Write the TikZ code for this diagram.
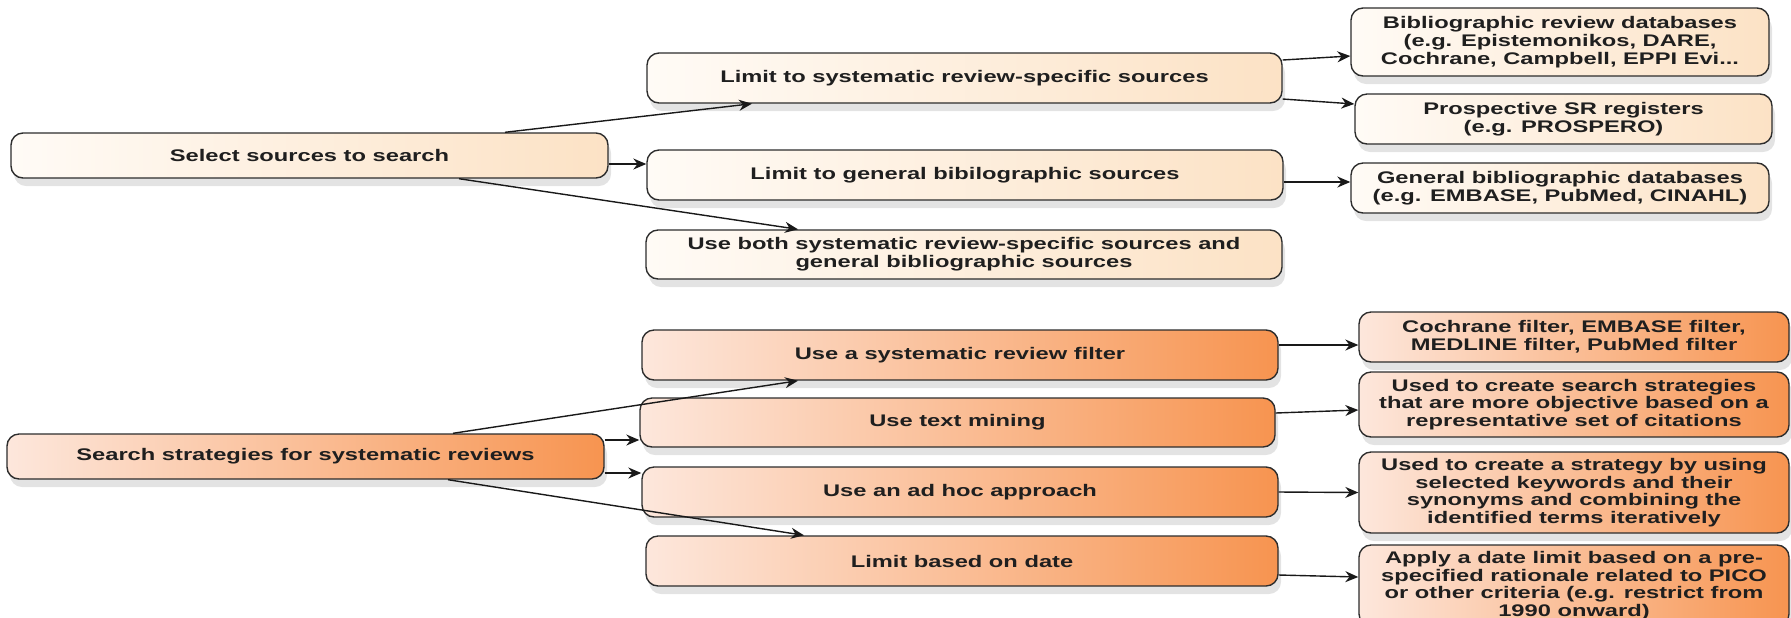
\documentclass[tikz,border=0pt]{standalone}
\usepackage{fontspec}
\setmainfont{Liberation Sans}[FakeStretch=1.41]
\usetikzlibrary{arrows.meta,shadows}
\definecolor{peachL}{RGB}{255,251,246}
\definecolor{peachR}{RGB}{252,226,197}
\definecolor{orangeL}{RGB}{253,231,220}
\definecolor{orangeM}{RGB}{252,207,180}
\definecolor{orangeR}{RGB}{247,148,80}
\definecolor{boxline}{RGB}{45,45,45}
\begin{document}
\begin{tikzpicture}[x=0.5pt,y=-0.5pt,>={Stealth[length=6.5pt,width=5.5pt]}]
        \tikzstyle{box}=[rounded corners=6pt,draw=boxline,line width=0.7pt,inner sep=0pt,align=center,
                         font=\fontsize{8.4pt}{8.85pt}\selectfont\bfseries,text=black!88,
                         drop shadow={shadow xshift=1.5pt,shadow yshift=-4pt,fill=black!18,opacity=0.6}]
        \tikzstyle{source}=[box,left color=peachL,right color=peachR]
        \tikzstyle{strategy}=[box,left color=orangeL,middle color=orangeM,right color=orangeR]
        \tikzstyle{edge}=[draw=black!90,line width=0.7pt,->]

        \useasboundingbox (0,0) rectangle (1791,617);

        \begin{scope}

          \node [source,minimum width=298.5pt,minimum height=22.5pt] (sel) at (309.5,155.5) {Select sources to search};
          \node [source,minimum width=317.5pt,minimum height=25pt] (limsys) at (964.5,78) {Limit to systematic review-specific sources};
          \node [source,minimum width=318pt,minimum height=25pt] (limgen) at (965,175) {Limit to general bibilographic sources};
          \node [source,minimum width=318pt,minimum height=24.5pt] (both) at (964,254.5) {Use both systematic review-specific sources and\\general bibliographic sources};
          \node [source,minimum width=209pt,minimum height=34pt] (bibrev) at (1560,42) {Bibliographic review databases\\(e.g. Epistemonikos, DARE,\\Cochrane, Campbell, EPPI Evi...};
          \node [source,minimum width=208.5pt,minimum height=25pt] (prosp) at (1563.5,119) {Prospective SR registers\\(e.g. PROSPERO)};
          \node [source,minimum width=209pt,minimum height=25pt] (gendb) at (1560,188) {General bibliographic databases\\(e.g. EMBASE, PubMed, CINAHL)};

          \path ([xshift=97.75pt]sel.north) edge[edge] ([xshift=-106.25pt]limsys.south);
          \path ([yshift=-4.25pt]sel.east) edge[edge] ([yshift=5.5pt]limgen.west);
          \path ([xshift=74.75pt]sel.south) edge[edge] ([xshift=-83pt]both.north);
          \path ([yshift=9pt]limsys.east) edge[edge] ([yshift=-7pt]bibrev.west);
          \path ([yshift=-10.5pt]limsys.east) edge[edge] ([yshift=7.5pt]prosp.west);
          \path ([yshift=-3.5pt]limgen.east) edge[edge] ([yshift=3pt]gendb.west);

        \end{scope}

        \begin{scope}

          \node [strategy,minimum width=298.5pt,minimum height=22.5pt] (strat) at (305.5,456.5) {Search strategies for systematic reviews};
          \node [strategy,minimum width=318pt,minimum height=25pt] (srfilt) at (960,355) {Use a systematic review filter};
          \node [strategy,minimum width=317.5pt,minimum height=24.5pt] (txtmin) at (957.5,422.5) {Use text mining};
          \node [strategy,minimum width=318pt,minimum height=25pt] (adhoc) at (960,492) {Use an ad hoc approach};
          \node [strategy,minimum width=316pt,minimum height=25pt] (lmdate) at (962,561) {Limit based on date};
          \node [strategy,minimum width=215pt,minimum height=25pt] (cochr) at (1574,337) {Cochrane filter, EMBASE filter,\\MEDLINE filter, PubMed filter};
          \node [strategy,minimum width=215pt,minimum height=32.5pt] (usesrch) at (1574,404.5) {Used to create search strategies\\that are more objective based on a\\representative set of citations};
          \node [strategy,minimum width=215pt,minimum height=40.5pt] (usestrat) at (1574,492.5) {Used to create a strategy by using\\selected keywords and their\\synonyms and combining the\\identified terms iteratively};
          \node [strategy,minimum width=215pt,minimum height=40.5pt] (apply) at (1574,585.5) {Apply a date limit based on a pre-\\specified rationale related to PICO\\or other criteria (e.g. restrict from\\1990 onward)};

          \path ([xshift=73.75pt]strat.north) edge[edge] ([xshift=-81pt]srfilt.south);
          \path ([yshift=8.25pt]strat.east) edge[edge] ([yshift=-8.75pt]txtmin.west);
          \path ([yshift=-8.25pt]strat.east) edge[edge] ([yshift=9.5pt]adhoc.west);
          \path ([xshift=71.25pt]strat.south) edge[edge] ([xshift=-79pt]lmdate.north);
          \path ([yshift=5pt]srfilt.east) edge[edge] ([yshift=-4pt]cochr.west);
          \path ([yshift=4.75pt]txtmin.east) edge[edge] ([yshift=-2.75pt]usesrch.west);
          \path (adhoc.east) edge[edge] (usestrat.west);
          \path ([yshift=-7pt]lmdate.east) edge[edge] ([yshift=4.25pt]apply.west);

        \end{scope}
      \end{tikzpicture}
\end{document}
